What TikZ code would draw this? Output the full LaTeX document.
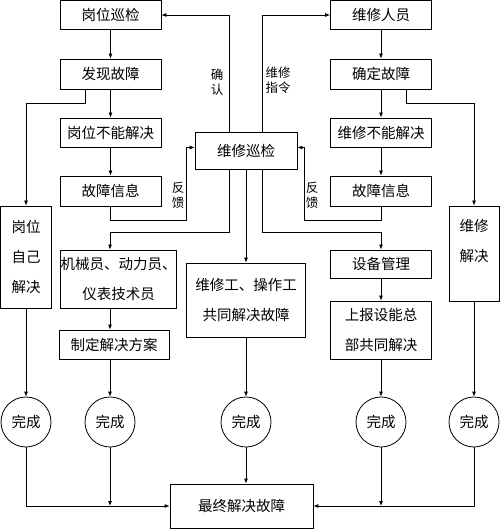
\documentclass[tikz,border=0pt]{standalone}
\usepackage{fontspec}
\newfontfamily\cjk{Noto Sans CJK SC}
\usetikzlibrary{arrows.meta}
\tikzset{
  box/.style={draw, minimum width=101pt, minimum height=29pt, inner sep=1pt, align=center},
  done/.style={draw, circle, minimum size=50pt, inner sep=0pt},
  note/.style={font=\cjk\fontsize{12.5}{15}\selectfont, align=center},
}
\begin{document}
\begin{tikzpicture}[x=1pt, y=-1pt, line width=0.8pt, >={Latex[length=5pt,width=4pt]},
  every node/.style={font=\cjk\fontsize{14.5}{30}\selectfont}]
\useasboundingbox (0,0) rectangle (500,529);

\node[box] (gw1) at (110.5,15) {岗位巡检};
\node[box, minimum height=30pt] (gw2) at (110.5,74) {发现故障};
\node[box] (gw3) at (110.5,132.5) {岗位不能解决};
\node[box, minimum height=30pt] (gw4) at (110.5,191) {故障信息};
\node[box, minimum width=51pt, minimum height=102pt] (zj) at (26,257) {岗位\\自己\\解决};

\node[box, minimum width=102pt, minimum height=37pt] (wx) at (246,150.5) {维修巡检};

\node[box] (wr1) at (381,15) {维修人员};
\node[box, minimum height=30pt] (wr2) at (381,74) {确定故障};
\node[box] (wr3) at (381,132.5) {维修不能解决};
\node[box, minimum height=30pt] (wr4) at (381,191) {故障信息};
\node[box, minimum width=50pt, minimum height=95pt, text depth=27pt] (wj) at (474,253.5) {维修\\解决};

\node[box, minimum width=115pt, minimum height=58pt, inner xsep=0pt] (jx) at (118.5,279) {机械员、动力员、\\仪表技术员};
\node[box, minimum width=110pt] (fa) at (114,344.5) {制定解决方案};
\node[box, minimum width=119pt, minimum height=74pt] (gt) at (246,300) {维修工、操作工\\共同解决故障};
\node[box, minimum height=28pt] (sb) at (381,264) {设备管理};
\node[box, minimum height=58pt] (sb2) at (381,330) {上报设能总\\部共同解决};

\node[done] (c1) at (26,422) {完成};
\node[done] (c2) at (110,422) {完成};
\node[done] (c3) at (246,422) {完成};
\node[done] (c4) at (381,422) {完成};
\node[done] (c5) at (474,422) {完成};

\node[box, minimum width=143pt, minimum height=44pt] (zz) at (241.5,506) {最终解决故障};

\node[note] (qr) at (217,82) {确\\认};
\node[note] (zl) at (278,80) {维修\\指令};
\node[note] (fk1) at (178,195) {反\\馈};
\node[note] (fk2) at (312,195) {反\\馈};

\coordinate (k2) at (jx.north -| c2.north);

\path [->] (gw1) edge (gw2) (gw2) edge (gw3) (gw3) edge (gw4);
\path [->] (wr1) edge (wr2) (wr2) edge (wr3) (wr3) edge (wr4);
\path [->] (zj) edge (c1) (wx) edge (gt) (gt) edge (c3);
\path [->] (sb) edge (sb2) (sb2) edge (c4) (wj) edge (c5);

\draw[->] ([xshift=-25.5pt]gw2.south) -- ++(0,14) -| (zj.north);
\draw[->] ([xshift=25pt]wr2.south) -- ++(0,14) -| (wj.north);
\draw[->] ([xshift=-17pt]wx.north) |- (gw1.east);
\draw[->] ([xshift=16pt]wx.north) |- (wr1.west);
\draw[->] (gw4.south) -- ++(0,14) -| ([xshift=-8pt,yshift=3pt]wx.west) -- ([yshift=3pt]wx.west);
\draw[->] (wr4.south) -- ++(0,14) -| ([xshift=7pt,yshift=3pt]wx.east) -- ([yshift=3pt]wx.east);
\draw[->] ([xshift=-17pt]wx.south) |- ([yshift=17pt]k2) -- (k2);
\draw[->] ([xshift=16pt]wx.south) |- ([yshift=17pt]sb.north) -- (sb.north);
\draw[->] (jx.south -| c2.north) -- (fa.north -| c2.north);
\draw[->] (fa.south -| c2.north) -- (c2.north);

\draw[->] (c1.south) |- (zz.west);
\draw[->] (c2.south) -- (c2.south |- zz.west);
\draw[->] (c3.south) -- (c3.south |- zz.north);
\draw[->] (c4.south) -- (c4.south |- zz.east);
\draw[->] (c5.south) |- (zz.east);
\end{tikzpicture}
\end{document}
